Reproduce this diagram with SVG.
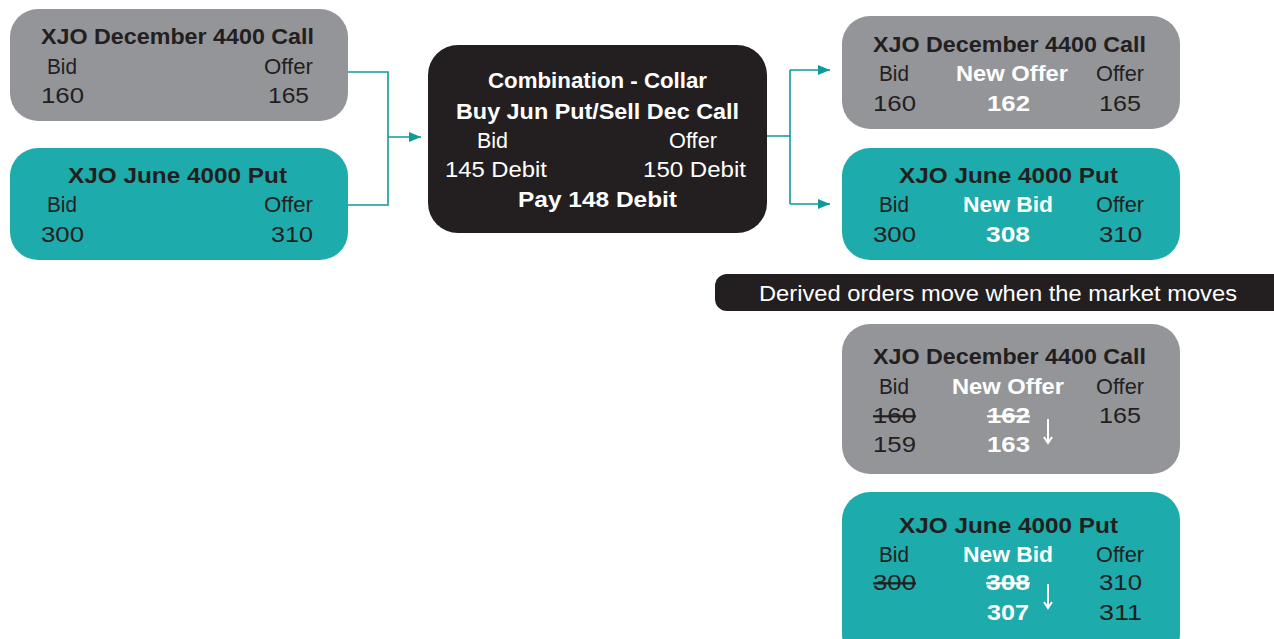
<svg xmlns="http://www.w3.org/2000/svg" width="1274" height="639" viewBox="0 0 1274 639">
<defs>
<style>
.gray{fill:#949599}
.teal{fill:#1eabab}
.dark{fill:#231f20}
text{font-family:"Liberation Sans",Arial,sans-serif;font-size:22px}
.t{font-weight:bold;fill:#231f20}
.tw{font-weight:bold;fill:#ffffff}
.r{fill:#231f20}
.rw{fill:#ffffff}
.s{text-decoration:line-through}
.conn{fill:none;stroke:#0e9a9a;stroke-width:1.6}
.down{fill:none;stroke:#ffffff;stroke-width:2}
</style>
<marker id="ah" markerWidth="12" markerHeight="10" refX="12" refY="5" orient="auto" markerUnits="userSpaceOnUse">
<path d="M0,0 L12,5 L0,10 Z" fill="#0e9a9a"/>
</marker>
</defs>
<rect width="1274" height="639" fill="#ffffff"/>

<g id="connectors">
<path class="conn" d="M348,72 H388 V205 H348"/>
<path class="conn" d="M388,137 H421" marker-end="url(#ah)"/>
<path class="conn" d="M767,136 H790 M790,70 V204"/>
<path class="conn" d="M790,70 H830" marker-end="url(#ah)"/>
<path class="conn" d="M790,204 H830" marker-end="url(#ah)"/>
</g>

<g id="dec-call">
<rect class="gray" x="10" y="9" width="338" height="112" rx="28"/>
<text class="t" x="41" y="44" textLength="273" lengthAdjust="spacingAndGlyphs">XJO December 4400 Call</text>
<text class="r" x="47" y="74" textLength="30" lengthAdjust="spacingAndGlyphs">Bid</text>
<text class="r" x="264" y="74" textLength="49" lengthAdjust="spacingAndGlyphs">Offer</text>
<text class="r" x="41" y="103" textLength="43" lengthAdjust="spacingAndGlyphs">160</text>
<text class="r" x="268" y="103" textLength="41" lengthAdjust="spacingAndGlyphs">165</text>
</g>

<g id="jun-put">
<rect class="teal" x="10" y="148" width="338" height="112" rx="28"/>
<text class="t" x="68" y="183" textLength="219" lengthAdjust="spacingAndGlyphs">XJO June 4000 Put</text>
<text class="r" x="47" y="212" textLength="30" lengthAdjust="spacingAndGlyphs">Bid</text>
<text class="r" x="264" y="212" textLength="49" lengthAdjust="spacingAndGlyphs">Offer</text>
<text class="r" x="41" y="242" textLength="43" lengthAdjust="spacingAndGlyphs">300</text>
<text class="r" x="271" y="242" textLength="42" lengthAdjust="spacingAndGlyphs">310</text>
</g>

<g id="collar">
<rect class="dark" x="428" y="45" width="339" height="188" rx="30"/>
<text class="tw" x="488" y="88" textLength="219" lengthAdjust="spacingAndGlyphs">Combination - Collar</text>
<text class="tw" x="456" y="119" textLength="283" lengthAdjust="spacingAndGlyphs">Buy Jun Put/Sell Dec Call</text>
<text class="rw" x="477" y="148" textLength="31" lengthAdjust="spacingAndGlyphs">Bid</text>
<text class="rw" x="669" y="148" textLength="48" lengthAdjust="spacingAndGlyphs">Offer</text>
<text class="rw" x="445" y="177" textLength="102" lengthAdjust="spacingAndGlyphs">145 Debit</text>
<text class="rw" x="643" y="177" textLength="103" lengthAdjust="spacingAndGlyphs">150 Debit</text>
<text class="tw" x="518" y="207" textLength="159" lengthAdjust="spacingAndGlyphs">Pay 148 Debit</text>
</g>

<g id="dec-call-new">
<rect class="gray" x="842" y="16" width="338" height="113" rx="28"/>
<text class="t" x="873" y="52" textLength="273" lengthAdjust="spacingAndGlyphs">XJO December 4400 Call</text>
<text class="r" x="879" y="81" textLength="30" lengthAdjust="spacingAndGlyphs">Bid</text>
<text class="tw" x="956" y="81" textLength="112" lengthAdjust="spacingAndGlyphs">New Offer</text>
<text class="r" x="1096" y="81" textLength="48" lengthAdjust="spacingAndGlyphs">Offer</text>
<text class="r" x="873" y="111" textLength="43" lengthAdjust="spacingAndGlyphs">160</text>
<text class="tw" x="987" y="111" textLength="43" lengthAdjust="spacingAndGlyphs">162</text>
<text class="r" x="1099" y="111" textLength="42" lengthAdjust="spacingAndGlyphs">165</text>
</g>

<g id="jun-put-new">
<rect class="teal" x="842" y="148" width="338" height="112" rx="28"/>
<text class="t" x="899" y="183" textLength="219" lengthAdjust="spacingAndGlyphs">XJO June 4000 Put</text>
<text class="r" x="879" y="212" textLength="30" lengthAdjust="spacingAndGlyphs">Bid</text>
<text class="tw" x="963" y="212" textLength="90" lengthAdjust="spacingAndGlyphs">New Bid</text>
<text class="r" x="1096" y="212" textLength="48" lengthAdjust="spacingAndGlyphs">Offer</text>
<text class="r" x="873" y="242" textLength="43" lengthAdjust="spacingAndGlyphs">300</text>
<text class="tw" x="986" y="242" textLength="44" lengthAdjust="spacingAndGlyphs">308</text>
<text class="r" x="1099" y="242" textLength="43" lengthAdjust="spacingAndGlyphs">310</text>
</g>

<g id="banner">
<rect class="dark" x="715" y="274" width="575" height="37" rx="12"/>
<text class="rw" x="759" y="301" textLength="478" lengthAdjust="spacingAndGlyphs">Derived orders move when the market moves</text>
</g>

<g id="dec-call-moved">
<rect class="gray" x="842" y="324" width="338" height="150" rx="28"/>
<text class="t" x="873" y="364" textLength="273" lengthAdjust="spacingAndGlyphs">XJO December 4400 Call</text>
<text class="r" x="879" y="394" textLength="30" lengthAdjust="spacingAndGlyphs">Bid</text>
<text class="tw" x="952" y="394" textLength="112" lengthAdjust="spacingAndGlyphs">New Offer</text>
<text class="r" x="1096" y="394" textLength="48" lengthAdjust="spacingAndGlyphs">Offer</text>
<text class="r s" x="873" y="423" textLength="43" lengthAdjust="spacingAndGlyphs">160</text>
<text class="tw s" x="987" y="423" textLength="43" lengthAdjust="spacingAndGlyphs">162</text>
<text class="r" x="1099" y="423" textLength="42" lengthAdjust="spacingAndGlyphs">165</text>
<text class="r" x="873" y="452" textLength="43" lengthAdjust="spacingAndGlyphs">159</text>
<text class="tw" x="987" y="452" textLength="43" lengthAdjust="spacingAndGlyphs">163</text>
<path class="down" d="M1048,419 V442 M1044,437 L1048,443 L1052,437"/>
</g>

<g id="jun-put-moved">
<rect class="teal" x="842" y="492" width="338" height="170" rx="28"/>
<text class="t" x="899" y="533" textLength="219" lengthAdjust="spacingAndGlyphs">XJO June 4000 Put</text>
<text class="r" x="879" y="562" textLength="30" lengthAdjust="spacingAndGlyphs">Bid</text>
<text class="tw" x="963" y="562" textLength="90" lengthAdjust="spacingAndGlyphs">New Bid</text>
<text class="r" x="1096" y="562" textLength="48" lengthAdjust="spacingAndGlyphs">Offer</text>
<text class="r s" x="873" y="590" textLength="43" lengthAdjust="spacingAndGlyphs">300</text>
<text class="tw s" x="986" y="590" textLength="44" lengthAdjust="spacingAndGlyphs">308</text>
<text class="r" x="1099" y="590" textLength="43" lengthAdjust="spacingAndGlyphs">310</text>
<text class="tw" x="987" y="620" textLength="42" lengthAdjust="spacingAndGlyphs">307</text>
<text class="r" x="1099" y="620" textLength="43" lengthAdjust="spacingAndGlyphs">311</text>
<path class="down" d="M1048,584 V607 M1044,602 L1048,608 L1052,602"/>
</g>
</svg>
